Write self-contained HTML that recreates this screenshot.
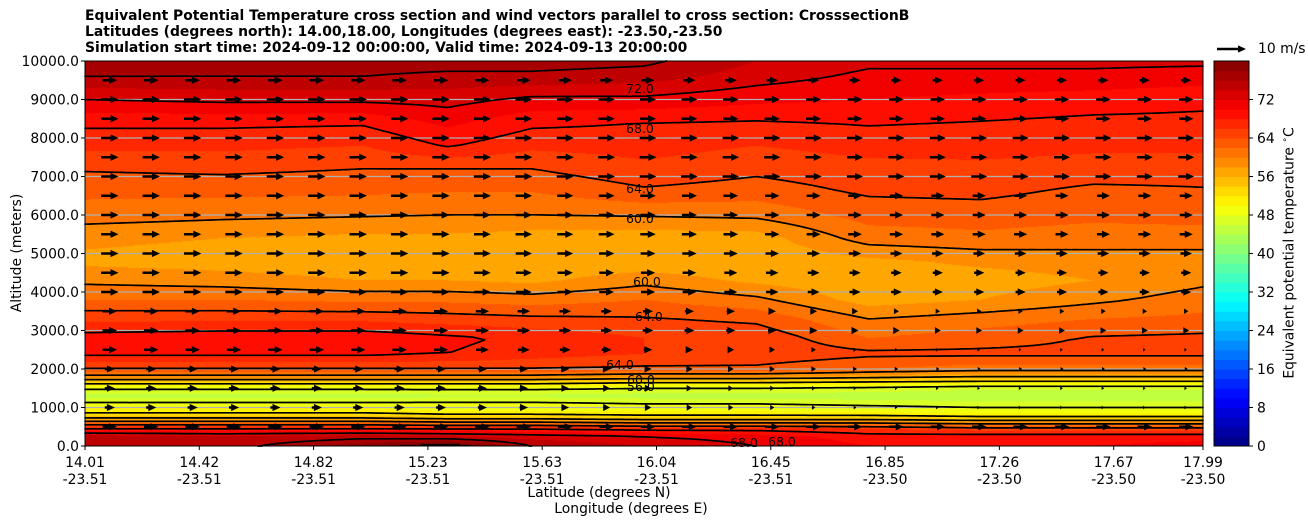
<!DOCTYPE html>
<html><head><meta charset="utf-8">
<style>
html,body{margin:0;padding:0;background:#fff;}
#root{position:relative;width:1308px;height:526px;overflow:hidden;font-family:"DejaVu Sans","Liberation Sans",sans-serif;color:#000;}
.t{position:absolute;white-space:nowrap;}
</style></head>
<body>
<div id="root">
<div class="t" style="left:85px;top:8px;font-weight:bold;font-size:13.9px;line-height:16px;">Equivalent Potential Temperature cross section and wind vectors parallel to cross section: CrosssectionB<br>Latitudes (degrees north): 14.00,18.00, Longitudes (degrees east): -23.50,-23.50<br>Simulation start time: 2024-09-12 00:00:00, Valid time: 2024-09-13 20:00:00</div>
<canvas id="fill" width="1118" height="385" style="position:absolute;left:85px;top:61px;"></canvas>
<svg id="ov" width="1308" height="526" style="position:absolute;left:0;top:0;">
<g id="grid"></g><g id="cont"></g><g id="arrows"></g><g id="axes"></g><g id="cb"></g>
</svg>
<div class="t" style="left:17px;top:253px;font-size:13.9px;transform:translate(-50%,-50%) rotate(-90deg);">Altitude (meters)</div>
<div class="t" style="left:599px;top:485px;font-size:13.9px;transform:translateX(-50%);">Latitude (degrees N)</div>
<div class="t" style="left:631px;top:501px;font-size:13.9px;transform:translateX(-50%);">Longitude (degrees E)</div>
<div class="t" style="left:1289px;top:253px;font-size:13.9px;transform:translate(-50%,-50%) rotate(-90deg);">Equivalent potential temperature <sup style="font-size:9px">∘</sup>C</div>
<div class="t" style="left:1258px;top:41px;font-size:13.9px;">10 m/s</div>
</div>
<script>
// ---- data ----
const colLat = [14.01,14.5,15.0,15.3,15.6,16.0,16.4,16.8,17.2,17.6,17.99];
const knotZ = [0,250,450,600,750,900,1100,1300,1500,1650,1800,2000,2400,2800,3300,3800,4300,4800,5400,6000,6600,7200,7800,8400,9000,9600,10000];
const theta0 = [76,75,68,62,55,51,48.5,45,48.5,53,59,64,68.5,69,65.5,62,59.5,57.5,58.5,61,62.5,64.2,66.5,68.5,72,76,78];
const theta1 = [75,74,68,62,55,51,48.5,45,48.5,53,59,64,68.5,69.5,65.5,62,59,57,58,60.5,62.5,64.5,66.5,68.5,72.5,76,77];
const theta2 = [79,75,68,62,55,51,48.5,45,48.5,53,59,64,68.5,69.5,65.5,61.5,58,56.5,57.5,60.2,62.3,64,66,68.3,72.5,76,77];
const theta3 = [82,74,68,61,54,50,48.5,45.5,48.5,53,59,64,68,68.5,65,61.5,58,56.5,57.5,60,62,64,68.2,70.5,72.8,75.5,77];
const theta4 = [76,73,68,61,54,50,48.5,45.5,48.5,53,59,64,67,67.5,64.5,61,57.5,56.4,57,60,62,64,66.5,68.5,71.5,75.5,77];
const theta5 = [74,72,67,60,53,50,48,45,48,52,58,63.5,66,66,64.2,62,59.3,56.4,56.8,60.2,63.6,65.5,66.8,68,71.5,75,76.5];
const theta6 = [72,71,67,60,53,50,48,45,48,52,58,63.5,65.5,65.5,63.5,60.5,57.5,56.3,57,60.5,63,64.5,66,67.8,70.5,73,74];
const theta7 = [70,69,66,60,53,49.5,47.5,44.5,47.5,51.5,57,62,64.5,62,60,57,56.3,57.5,61,62.8,64.3,65.3,66.8,68.2,70,71.5,72.5];
const theta8 = [70,69,65,59,52,49,47,44,46.5,51,56,61,64.5,63,61,58,57,58.5,61.5,63,64.5,65.5,66.8,67.9,69.5,71.5,72.5];
const theta9 = [70,69,65,59,52,49,47,44,46.5,51,56,61,64.5,64.2,62,59.5,58,59,61,62.5,63.5,65,66.5,67.5,69,71.5,72.5];
const theta10 = [71,69,65,59,52,49,47,44,46.5,51,56,61,64.5,64.5,62.5,61,59.5,59,61,62.8,63.8,64.8,66.5,67.5,68.5,71,72.5];
const contourLevels = [48,52,56,60,64,68,72,76];
const windZ = [500,1000,1500,2000,2500,3000,3500,4000,4500,5000,5500,6000,6500,7000,7500,8000,8500,9000,9500];
const windLeft = [5,3.5,3.5,3.5,5,5,5,6,6,6,6,6,6,6,6,6,6,6,5];
const windRight = [5,0.5,0.5,1,0.5,2,1.5,3.5,3.5,4,4.5,4.5,4.5,5.5,5.5,5.5,5,5,3.5];
const yTicks = [0,1000,2000,3000,4000,5000,6000,7000,8000,9000,10000];
const latTicks = ["14.01","14.42","14.82","15.23","15.63","16.04","16.45","16.85","17.26","17.67","17.99"];
const lonTicks = ["-23.51","-23.51","-23.51","-23.51","-23.51","-23.51","-23.51","-23.50","-23.50","-23.50","-23.50"];
const cbTicks = [0,8,16,24,32,40,48,56,64,72];
const thetaCols = [theta0,theta1,theta2,theta3,theta4,theta5,theta6,theta7,theta8,theta9,theta10];

// ---- axes ----
const PL=85, PR=1203, PT=61, PB=446;
const LAT0=14.01, LAT1=17.99, ZMAX=10000, VMAX=80;
function xPx(lat){return PL+(lat-LAT0)/(LAT1-LAT0)*(PR-PL);}
function yPx(z){return PB-z/ZMAX*(PB-PT);}
function cbY(v){return PB-v/VMAX*(PB-PT);}
function jet(t){const c=v=>Math.max(0,Math.min(1,v));return [c(1.5-Math.abs(4*t-3)),c(1.5-Math.abs(4*t-2)),c(1.5-Math.abs(4*t-1))].map(v=>Math.round(v*255));}
function bandColor(v){if(v>=VMAX)return [0,0,0];const L=Math.floor(v/2)*2;return jet((L+1)/VMAX);}
const NS='http://www.w3.org/2000/svg';
function mk(tag,attrs,parent){const e=document.createElementNS(NS,tag);for(const k in attrs)e.setAttribute(k,attrs[k]);parent.appendChild(e);return e;}

function prof(col,z){for(let k=0;k<knotZ.length-1;k++){if(z<=knotZ[k+1]){const f=(z-knotZ[k])/(knotZ[k+1]-knotZ[k]);return col[k]+(col[k+1]-col[k])*f;}}return col[col.length-1];}
function field(lat,z){let i=0;while(i<colLat.length-2&&lat>colLat[i+1])i++;const f=Math.max(0,Math.min(1,(lat-colLat[i])/(colLat[i+1]-colLat[i])));return prof(thetaCols[i],z)*(1-f)+prof(thetaCols[i+1],z)*f;}

// ---- fill ----
const W=PR-PL,H=PB-PT;
const cv=document.getElementById('fill');const ctx=cv.getContext('2d');
const img=ctx.createImageData(W,H);
for(let py=0;py<H;py++){const z=(PB-(PT+py+0.5))/(PB-PT)*ZMAX;
 for(let px=0;px<W;px++){const lat=LAT0+(px+0.5)/W*(LAT1-LAT0);const c=bandColor(field(lat,z));const o=(py*W+px)*4;img.data[o]=c[0];img.data[o+1]=c[1];img.data[o+2]=c[2];img.data[o+3]=255;}}
ctx.putImageData(img,0,0);

// ---- grid lines ----
const grid=document.getElementById('grid');
yTicks.forEach(z=>{if(z>0&&z<ZMAX){const l=mk('line',{x1:PL,x2:PR,y1:yPx(z),y2:yPx(z),stroke:'#b0b0b0','stroke-width':1.2},grid);}});

// ---- contour lines ----
const cont=document.getElementById('cont');
const S=3,nx=Math.ceil(W/S)+1,ny=Math.ceil(H/S)+1;const G=[];
for(let j=0;j<ny;j++){G[j]=[];const py=Math.min(H,j*S);const z=(H-py)/H*ZMAX;for(let i=0;i<nx;i++){const px=Math.min(W,i*S);G[j][i]=field(LAT0+px/W*(LAT1-LAT0),z);}}
contourLevels.forEach(lv=>{let d='';
 for(let j=0;j<ny-1;j++)for(let i=0;i<nx-1;i++){
  const v=[G[j][i],G[j][i+1],G[j+1][i+1],G[j+1][i]];
  const p=[[i,j],[i+1,j],[i+1,j+1],[i,j+1]];const pts=[];
  for(let e=0;e<4;e++){const a=v[e],b=v[(e+1)%4];if((a<lv)!==(b<lv)){const f=(lv-a)/(b-a);const A=p[e],B=p[(e+1)%4];pts.push([PL+Math.min(W,(A[0]+(B[0]-A[0])*f)*S),PT+Math.min(H,(A[1]+(B[1]-A[1])*f)*S)]);}}
  for(let k=0;k+1<pts.length;k+=2)d+='M'+pts[k][0].toFixed(1)+' '+pts[k][1].toFixed(1)+'L'+pts[k+1][0].toFixed(1)+' '+pts[k+1][1].toFixed(1);
 }
 const pth=mk('path',{d:d,stroke:'#000','stroke-width':1.7,fill:'none','stroke-linecap':'round'},cont);
 
 
});
[[626,93,'72.0'],[626,133,'68.0'],[626,193,'64.0'],[626,223,'60.0'],[633,286,'60.0'],[635,321,'64.0'],[606,369,'64.0'],[627,384,'60.0'],[627,391,'56.0'],[730,447,'68.0'],[768,446,'68.0']].forEach(l=>{
 const t=mk('text',{x:l[0],y:l[1],'font-size':12.5,fill:'#000','font-family':'DejaVu Sans, sans-serif'},cont);t.textContent=l[2];
 
 
});

// ---- wind arrows ----
const arrows=document.getElementById('arrows');
const SCALE=2.9;
function arrow(cx,cy,u,g){const L=u*SCALE;const hl=Math.min(8,Math.max(2.5,L));const hw=Math.min(3.6,hl*0.45+0.8);const x0=cx-L/2,x1=cx+L/2;
 let d='';if(L>hl)d+='M'+x0+' '+(cy-1.2)+'L'+(x1-hl)+' '+(cy-1.2)+'L'+(x1-hl)+' '+(cy+1.2)+'L'+x0+' '+(cy+1.2)+'Z';
 d+='M'+(x1-hl)+' '+(cy-hw)+'L'+x1+' '+cy+'L'+(x1-hl)+' '+(cy+hw)+'Z';
 return mk('path',{d:d,fill:'#000'},g);}
const NC=27;
for(let r=0;r<windZ.length;r++){for(let c=0;c<NC;c++){const cx=PL+41.4*(c+0.6);if(cx>PR-4)continue;const f=(cx-PL)/W;
 const w=Math.min(1,Math.max(0,(f-0.3)*2.2));
 const u=windLeft[r]*(1-w)+windRight[r]*w;
 const a=arrow(cx,yPx(windZ[r]),u,arrows);
 
 }}
const key=arrow(1231.5,49,10,arrows);



// ---- axes ----
const ax=document.getElementById('axes');
const fr=mk('rect',{x:PL,y:PT,width:W,height:H,fill:'none',stroke:'#000','stroke-width':1},ax);

yTicks.forEach(z=>{const y=yPx(z);mk('line',{x1:PL-4,x2:PL,y1:y,y2:y,stroke:'#000'},ax);
 const t=mk('text',{x:PL-6,y:y+5,'text-anchor':'end','font-size':13.9,'font-family':'DejaVu Sans, sans-serif'},ax);t.textContent=z.toFixed(1);
 });
const TSP=114.3;
latTicks.forEach((s,i)=>{const x=Math.min(PR,PL+TSP*i);mk('line',{x1:x,x2:x,y1:PB,y2:PB+4,stroke:'#000'},ax);
 const t=mk('text',{x:x,y:467,'text-anchor':'middle','font-size':13.9,'font-family':'DejaVu Sans, sans-serif'},ax);t.textContent=s;
 
 const t2=mk('text',{x:x,y:484,'text-anchor':'middle','font-size':13.9,'font-family':'DejaVu Sans, sans-serif'},ax);t2.textContent=lonTicks[i];
 });

// ---- colorbar ----
const cb=document.getElementById('cb');
for(let v=0;v<VMAX;v+=2){const c=jet((v+1)/VMAX);const r=mk('rect',{x:1214,y:cbY(v+2),width:35,height:cbY(v)-cbY(v+2)+0.5,fill:'rgb('+c.join(',')+')'},cb);
 }
mk('rect',{x:1214,y:PT,width:35,height:H,fill:'none',stroke:'#000','stroke-width':1},cb);
cbTicks.forEach(v=>{const y=cbY(v);mk('line',{x1:1249,x2:1253,y1:y,y2:y,stroke:'#000'},cb);
 const t=mk('text',{x:1257,y:y+5,'font-size':13.9,'font-family':'DejaVu Sans, sans-serif'},cb);t.textContent=v;
 });
</script>
</body></html>
